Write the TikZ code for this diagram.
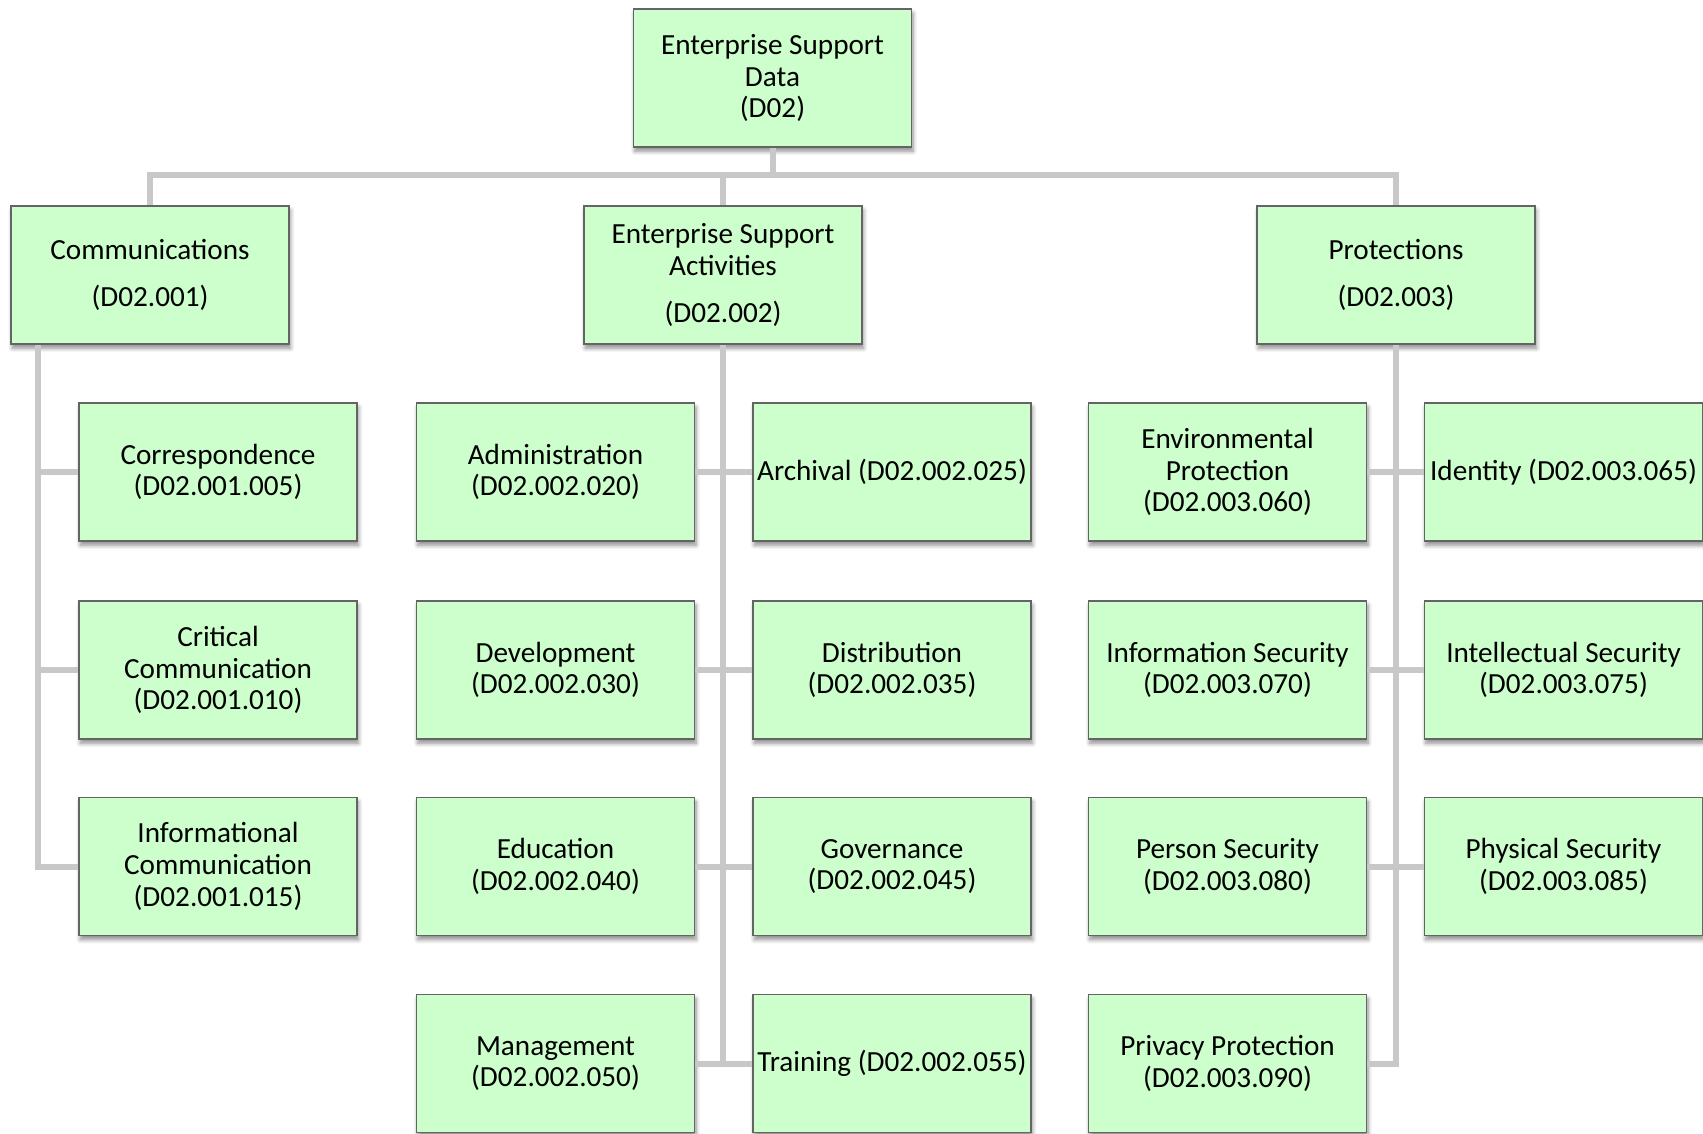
\documentclass[tikz,border=0pt]{standalone}
\usepackage{fontspec}
\setmainfont{Carlito}
\usetikzlibrary{shadows.blur}

\definecolor{boxgreen}{RGB}{204,255,204}
\definecolor{boxline}{RGB}{100,100,100}
\definecolor{linkgray}{RGB}{200,200,200}

\tikzset{
  unit/.style={draw=boxline,line width=0.4pt,fill=boxgreen,align=center,inner sep=0pt,
    minimum width=2.78cm,minimum height=1.38cm,font=\fontsize{8.3}{9}\selectfont,
    blur shadow={shadow xshift=0.4pt,shadow yshift=-1.2pt,shadow blur radius=1.2pt,
      shadow blur steps=6,shadow opacity=45}},
  link/.style={draw=linkgray,line width=1.7pt}
}

\begin{document}
\begin{tikzpicture}[x=0.01cm,y=-0.01cm]
\useasboundingbox (0,0) rectangle (1703,1133);
% top two levels
\node[unit] (root) at (772.5,78) {Enterprise Support\\Data\\(D02)};
\node[unit] (comm) at (150,275) {Communications\\[4.4pt](D02.001)};
\node[unit] (esa) at (723,275) {Enterprise Support\\Activities\\[4.4pt](D02.002)};
\node[unit] (prot) at (1396,275) {Protections\\[4.4pt](D02.003)};
% communications
\node[unit] (c1) at (218,472) {Correspondence\\(D02.001.005)};
\node[unit] (c2) at (218,670) {Critical\\Communication\\(D02.001.010)};
\node[unit] (c3) at (218,866.5) {Informational\\Communication\\(D02.001.015)};
% enterprise support activities
\node[unit] (e1) at (555.5,472) {Administration\\(D02.002.020)};
\node[unit] (e2) at (892,472) {Archival (D02.002.025)};
\node[unit] (e3) at (555.5,670) {Development\\(D02.002.030)};
\node[unit] (e4) at (892,670) {Distribution\\(D02.002.035)};
\node[unit] (e5) at (555.5,866.5) {Education\\(D02.002.040)};
\node[unit] (e6) at (892,866.5) {Governance\\(D02.002.045)};
\node[unit] (e7) at (555.5,1063.5) {Management\\(D02.002.050)};
\node[unit] (e8) at (892,1063.5) {Training (D02.002.055)};
% protections
\node[unit] (p1) at (1227.5,472) {Environmental\\Protection\\(D02.003.060)};
\node[unit] (p2) at (1563.5,472) {Identity (D02.003.065)};
\node[unit] (p3) at (1227.5,670) {Information Security\\(D02.003.070)};
\node[unit] (p4) at (1563.5,670) {Intellectual Security\\(D02.003.075)};
\node[unit] (p5) at (1227.5,866.5) {Person Security\\(D02.003.080)};
\node[unit] (p6) at (1563.5,866.5) {Physical Security\\(D02.003.085)};
\node[unit] (p7) at (1227.5,1063.5) {Privacy Protection\\(D02.003.090)};

% bus under the root
\coordinate (bus) at (772.5,175);
\draw[link] (root.south) -- (bus);
\draw[link] (comm.north) |- (bus) -| (prot.north);
\draw[link] (esa.north |- bus) -- (esa.north);

% trunks
\draw[link] (38,0 |- comm.south) |- (c3.west);
\foreach \c in {c1,c2}
  \draw[link] (38,0 |- \c.west) -- (\c.west);
\draw[link] (esa.south) -- (esa.south |- e7.east);
\draw[link] (prot.south) |- (p7.east);
\foreach \l/\r in {e1/e2,e3/e4,e5/e6,e7/e8,p1/p2,p3/p4,p5/p6}
  \draw[link] (\l.east) -- (\r.west);
\end{tikzpicture}
\end{document}
